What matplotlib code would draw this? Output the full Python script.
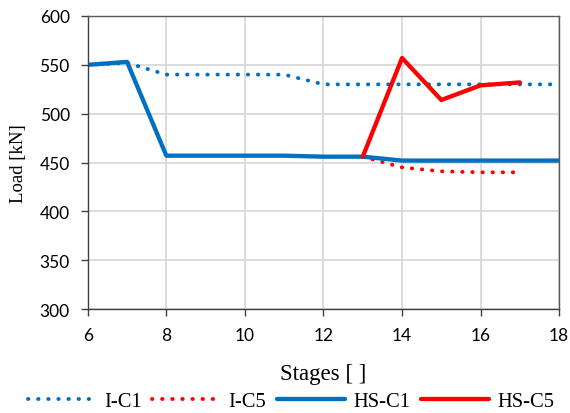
import matplotlib
matplotlib.use("Agg")
import matplotlib.pyplot as plt

plt.rcParams['font.family'] = ['Liberation Serif', 'DejaVu Serif']

stages_ic1 = [6, 7, 8, 9, 10, 11, 12, 13, 14, 15, 16, 17, 18]
load_ic1 = [550, 552, 540, 540, 540, 540, 530, 530, 530, 530, 530, 530, 530]
stages_ic5 = [13, 14, 15, 16, 17]
load_ic5 = [456, 445, 441, 440, 440]
stages_hsc1 = [6, 7, 8, 9, 10, 11, 12, 13, 14, 15, 16, 17, 18]
load_hsc1 = [550, 553, 457, 457, 457, 457, 456, 456, 452, 452, 452, 452, 452]
stages_hsc5 = [13, 14, 15, 16, 17]
load_hsc5 = [456, 557, 514, 529, 532]

blue = '#0070C0'
red = '#FF0000'

fig = plt.figure(figsize=(5.70, 4.14), dpi=100)
ax = fig.add_axes([0.154, 0.251, 0.827, 0.708])

dot = (0, (0.1, 2.5))
ax.plot(stages_ic1, load_ic1, color=blue, lw=2.8, ls=dot, dash_capstyle='round', label='I-C1')
ax.plot(stages_ic5, load_ic5, color=red, lw=2.8, ls=dot, dash_capstyle='round', label='I-C5')
ax.plot(stages_hsc1, load_hsc1, color=blue, lw=3.1, solid_capstyle='round', label='HS-C1')
ax.plot(stages_hsc5, load_hsc5, color=red, lw=3.1, solid_capstyle='round', label='HS-C5')

ax.set_xlim(6, 18)
ax.set_ylim(300, 600)
ax.set_xticks(range(6, 19, 2))
ax.set_yticks(range(300, 601, 50))
ax.grid(True, color='#d9d9d9', lw=1.3)
ax.set_axisbelow(True)
for s in ['left', 'bottom']:
    ax.spines[s].set_color('#404040')
    ax.spines[s].set_linewidth(1.0)
for s in ['top', 'right']:
    ax.spines[s].set_color('#595959')
    ax.spines[s].set_linewidth(1.0)
ax.tick_params(axis='both', labelsize=12.5, direction='out', length=5, color='#404040', width=1.0)
for lab in ax.get_xticklabels() + ax.get_yticklabels():
    lab.set_family(['Lato', 'DejaVu Sans'])
ax.tick_params(axis='x', pad=8)
ax.tick_params(axis='y', pad=8)
ax.set_xlabel('Stages [ ]', fontsize=16.5, labelpad=14)
ax.set_ylabel('Load [kN]', fontsize=13.5, labelpad=9)

fig.legend(loc='center', bbox_to_anchor=(291 / 570, 1 - 402 / 414), ncol=4, frameon=False,
           fontsize=14.8, handlelength=3.3, handletextpad=0.4, columnspacing=0.53,
           borderaxespad=0, borderpad=0)

fig.savefig('out.png', dpi=100)
